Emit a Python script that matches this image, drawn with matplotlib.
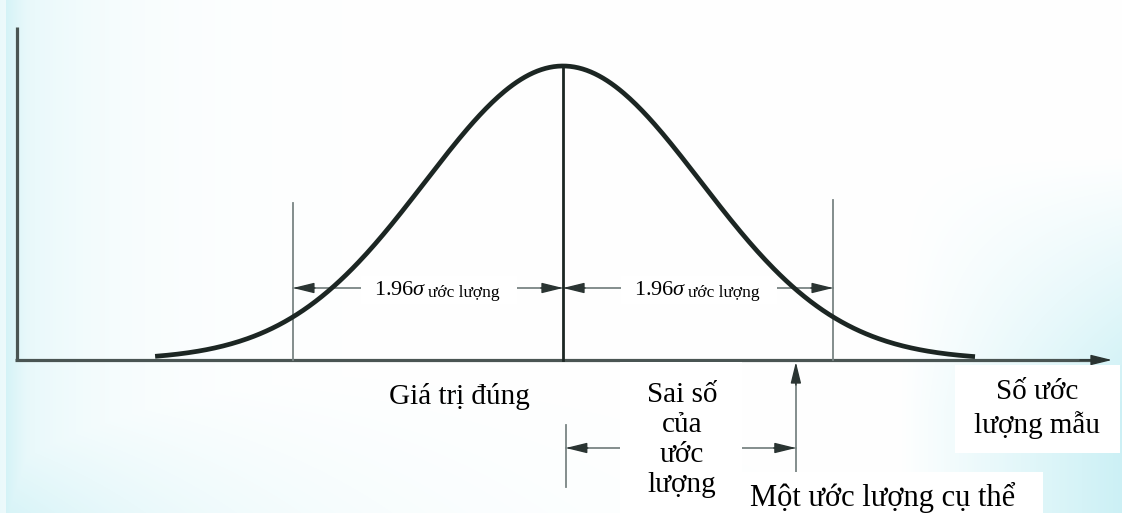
import matplotlib

matplotlib.use("Agg")

import matplotlib.pyplot as plt
import numpy as np
from matplotlib.patches import Rectangle

plt.rcParams["font.family"] = ["Liberation Serif", "DejaVu Serif"]
plt.rcParams["mathtext.fontset"] = "custom"
plt.rcParams["mathtext.rm"] = "Liberation Serif"
plt.rcParams["mathtext.it"] = "Liberation Serif:italic"

W, H = 1122, 513

# sampling distribution of the estimator, in standard units
MEAN = 0.0
SIGMA = 1.0
Z = 1.96
CURVE_RANGE = (-2.96, 2.99)
ESTIMATE = 1.69

BAND_MAIN = r"1.96$\sigma$"
BAND_SUB = "ước lượng"
LABEL_TRUE = "Giá trị đúng"
LABEL_ERROR = "Sai số\ncủa\nước\nlượng"
LABEL_SAMPLE = "Số ước\nlượng mẫu"
LABEL_ONE = "Một ước lượng cụ thể"

# page layout (pixels)
X_MEAN_PX = 563
PX_PER_SIGMA = 137.8
BASE_PX = 360
PEAK_PX = 66


def pdf(x):
    return np.exp(-0.5 * ((x - MEAN) / SIGMA) ** 2) / (SIGMA * np.sqrt(2 * np.pi))


peak = pdf(MEAN)
yscale = peak / (BASE_PX - PEAK_PX)


def dx(px):
    return (px - X_MEAN_PX) / PX_PER_SIGMA * SIGMA + MEAN


def dy(py):
    return (BASE_PX - py) * yscale


def fx(px):
    return px / W


def fy(py):
    return 1 - py / H


def white_box(x0, y0, x1, y1, z):
    ax.add_patch(Rectangle((fx(x0), fy(y1)), fx(x1) - fx(x0), fy(y0) - fy(y1),
                           transform=fig.transFigure, fc="white", ec="none", zorder=z))


fig = plt.figure(figsize=(W / 100, H / 100), dpi=100)

# scanned-page tint: cyan along the left edge and in the lower-right corner
bg = fig.add_axes([0, 0, 1, 1], zorder=0)
xx, yy = np.meshgrid(np.linspace(0, 1, W), np.linspace(0, 1, H))
tint = np.maximum(0.95 * np.exp(-xx / 0.03), 0.55 * np.exp(-xx / 0.09))
tint = np.maximum(tint, 0.75 * np.exp(-xx / 0.2) * np.clip((yy - 0.7) / 0.3, 0, 1))
right = np.clip((xx - 0.8) / 0.2, 0, 1) * np.clip((yy - 0.3) / 0.5, 0, 1)
tint = np.maximum(tint, 0.95 * right)
tint[:, :6] *= 0.4
cyan = np.array([0.79, 0.94, 0.96])
img = 1 - tint[..., None] * (1 - cyan)
bg.imshow(img, extent=[0, 1, 0, 1], aspect="auto")
bg.axis("off")

ax = fig.add_axes([0, 0, 1, 1], zorder=1)
ax.patch.set_alpha(0)
ax.set_xlim(dx(0), dx(W))
ax.set_ylim(dy(H), dy(0))
ax.axis("off")

ink = "#1c2623"
axis_c = "#4a5553"
grey = "#7a8584"
head = "#2a3432"


def heads(x0, y0, x1, y1):
    # dark filled arrowhead pointing from (x0, y0) towards (x1, y1)
    ax.annotate("", xy=(x1, y1), xytext=(x0, y0),
                arrowprops=dict(arrowstyle="-|>,head_length=1.3,head_width=0.32",
                                color=head, lw=1.0, shrinkA=0, shrinkB=0), zorder=4)


# axes of the diagram
ax.plot([dx(17), dx(17)], [0, dy(27)], color=axis_c, lw=2.3, solid_capstyle="butt")
ax.plot([dx(15), dx(1095)], [0, 0], color=axis_c, lw=2.3, solid_capstyle="butt")
heads(dx(1080), 0, dx(1112), 0)

# normal curve
x = np.linspace(*CURVE_RANGE, 400)
ax.plot(x, pdf(x), color=ink, lw=3.4, solid_capstyle="butt", zorder=6)

# true value and ±1.96σ limits
ax.plot([MEAN, MEAN], [0, peak], color=ink, lw=2.0, zorder=5)
lo, hi = MEAN - Z * SIGMA, MEAN + Z * SIGMA
ax.plot([lo, lo], [0, dy(203)], color=grey, lw=1.3)
ax.plot([hi, hi], [0, dy(200)], color=grey, lw=1.3)

y_band = dy(288)
hl = 0.16
for a, b, tx in [(lo, MEAN, 427), (MEAN, hi, 687)]:
    ax.plot([a, b], [y_band, y_band], color=grey, lw=1.3, zorder=2)
    heads(a + hl, y_band, a, y_band)
    heads(b - hl, y_band, b, y_band)
    white_box(tx - 66, 276, tx + 90, 304, 3)
    ax.text(dx(tx), dy(295), BAND_MAIN, fontsize=16, ha="right", va="baseline", zorder=4)
    ax.text(dx(tx + 1), dy(297), BAND_SUB, fontsize=12.5, ha="left", va="baseline", zorder=4)

# sampling error of one estimate
y_err = dy(448)
ax.plot([MEAN + 0.02, MEAN + 0.02], [dy(425), dy(487)], color=grey, lw=1.3)
ax.plot([MEAN + 0.02, ESTIMATE], [y_err, y_err], color=grey, lw=1.3)
heads(MEAN + 0.02 + hl, y_err, MEAN + 0.02, y_err)
heads(ESTIMATE - hl, y_err, ESTIMATE, y_err)
ax.plot([ESTIMATE, ESTIMATE], [dy(472), dy(380)], color=grey, lw=1.3)
heads(ESTIMATE, dy(385), ESTIMATE, dy(362))

# pasted text boxes
white_box(620, 362, 742, 513, 7)
white_box(955, 365, 1120, 453, 7)
white_box(740, 472, 1043, 513, 7)

fig.text(fx(459), fy(397), LABEL_TRUE, fontsize=21, ha="center", va="center", zorder=8)
fig.text(fx(682), fy(440), LABEL_ERROR, fontsize=21, ha="center", va="center",
         linespacing=1.2, zorder=8)
fig.text(fx(1037), fy(409), LABEL_SAMPLE, fontsize=21, ha="center", va="center",
         linespacing=1.3, zorder=8)
fig.text(fx(750), fy(506), LABEL_ONE, fontsize=22, ha="left", va="baseline", zorder=8)

fig.savefig("out.png", dpi=100)
